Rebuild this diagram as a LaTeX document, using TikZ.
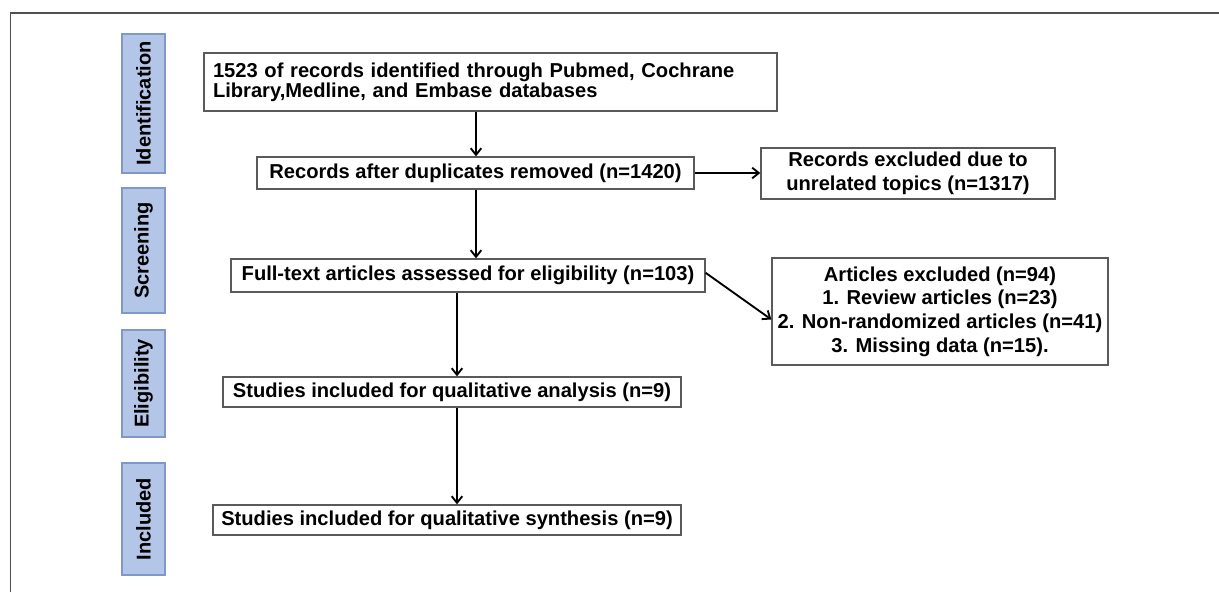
\documentclass[tikz,border=0pt]{standalone}
\usepackage{fontspec}
\setmainfont{Liberation Sans}
\usetikzlibrary{arrows.meta}
\definecolor{labfill}{HTML}{B4C6E7}
\definecolor{labdraw}{HTML}{7F97C9}
\definecolor{framec}{HTML}{505050}
\definecolor{boxc}{HTML}{5A5A5A}
\begin{document}
\begin{tikzpicture}[x=0.75pt,y=-0.75pt,
  box/.style={draw=boxc,line width=1pt,inner sep=0pt,align=center,
    font=\fontsize{15.1pt}{17.8pt}\selectfont\bfseries},
  sidelab/.style={draw=labdraw,fill=labfill,line width=1pt,rotate=90,inner sep=0pt,
    minimum height=32.25pt,font=\fontsize{15pt}{16pt}\selectfont\bfseries},
  arr/.style={line width=1.4pt,-{Straight Barb[length=5pt,width=8pt,line width=1.4pt]}}]
\useasboundingbox (0,0) rectangle (1219,592);
\draw[framec,line width=1.2pt] (10.5,592) -- (10.5,13) -- (1219,13);

\node[sidelab,minimum width=104.25pt] (ident) at (143.5,103.5) {Identification};
\node[sidelab,minimum width=93.75pt] (screen) at (143.5,250.5) {Screening};
\node[sidelab,minimum width=80.25pt] (elig) at (143.5,383.5) {Eligibility};
\node[sidelab,minimum width=84pt] (incl) at (143.5,519) {Included};

\node[box,align=left,text width=416.25pt,inner xsep=6.75pt,minimum height=43.5pt,
  font=\fontsize{15.1pt}{12.2pt}\selectfont\bfseries] (b1) at (490.5,82)
  {1523 of records identified through Pubmed, Cochrane\\Library,Medline, and Embase databases};
\node[box,minimum width=327.75pt,minimum height=24pt] (b2) at (475.5,173)
  {Records after duplicates removed (n=1420)};
\node[box,minimum width=220.5pt,minimum height=38.25pt] (b3) at (908,173.5)
  {Records excluded due to\\unrelated topics (n=1317)};
\node[box,minimum width=355.5pt,minimum height=24.75pt] (b4) at (468,275.5)
  {Full-text articles assessed for eligibility (n=103)};
\node[box,minimum width=252pt,minimum height=80.25pt] (b5) at (940,311.5)
  {Articles excluded (n=94)\\1. Review articles (n=23)\\2. Non-randomized articles (n=41)\\3. Missing data (n=15).};
\node[box,minimum width=343.5pt,minimum height=22.5pt] (b6) at (452,392)
  {Studies included for qualitative analysis (n=9)};
\node[box,minimum width=351pt,minimum height=22.5pt] (b7) at (447,520)
  {Studies included for qualitative synthesis (n=9)};

\coordinate (xa) at (476,0);
\coordinate (xb) at (457,0);
\draw[arr] (b1.south -| xa) -- (b2.north -| xa);
\draw[arr] (b2.south -| xa) -- (b4.north -| xa);
\draw[arr] (b2.east) -- (b3.west |- b2.east);
\draw[arr] ([yshift=2pt]b4.east) -- ([yshift=-6pt]b5.west);
\draw[arr] (b4.south -| xb) -- (b6.north -| xb);
\draw[arr] (b6.south -| xb) -- (b7.north -| xb);
\end{tikzpicture}
\end{document}
